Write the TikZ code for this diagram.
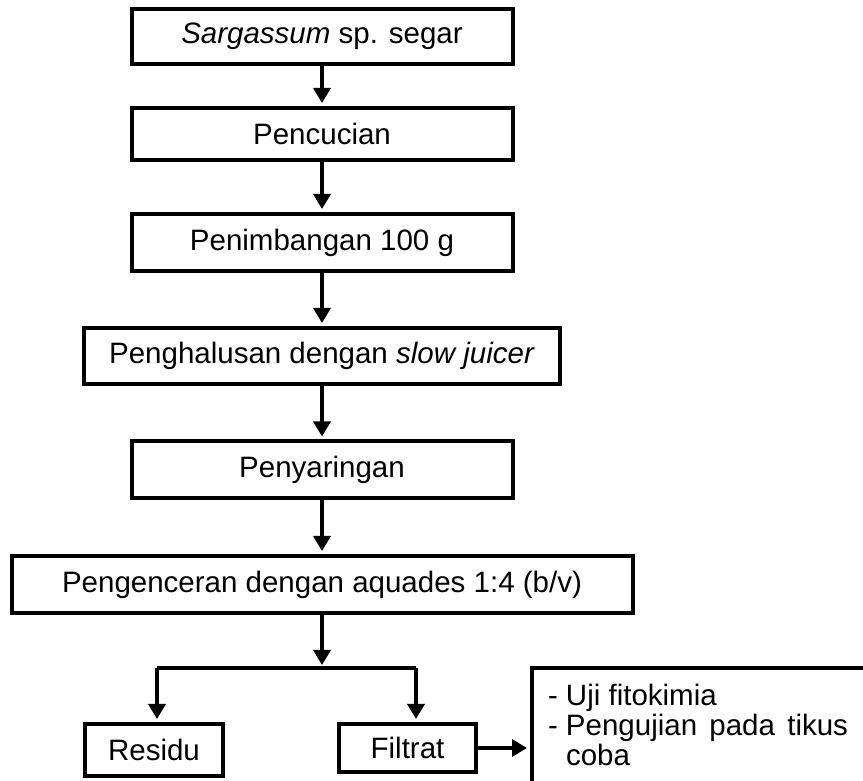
\documentclass[tikz,border=0pt]{standalone}
\usepackage{fontspec}
\setmainfont{Liberation Sans}
\usetikzlibrary{arrows.meta}

\begin{document}
\begin{tikzpicture}[x=1pt,y=1pt,
    font=\fontsize{29.5}{30}\selectfont,
    box/.style={draw, line width=4pt, inner sep=0pt, align=center},
    flow/.style={line width=3.5pt, -{Triangle[length=15pt,width=17pt]}, shorten >=3pt}]
      \clip (0,0) rectangle (863,780);
      \draw
        (322,743.5) node[box, minimum width=381, minimum height=55] (0){\textit{Sargassum} sp. segar}
        (322,646) node[box, minimum width=381, minimum height=52] (1){Pencucian}
        (322,537.5) node[box, minimum width=381, minimum height=57] (2){Penimbangan 100 g}
        (322,424) node[box, minimum width=476, minimum height=56] (3){Penghalusan dengan \textit{slow juicer}}
        (322,310) node[box, minimum width=381, minimum height=57] (4){Penyaringan}
        (322,195.5) node[box, minimum width=621, minimum height=57] (5){Pengenceran dengan aquades 1:4 (b/v)}
        (154,30) node[box, minimum width=138, minimum height=52] (6){Residu}
        (407.5,32) node[box, minimum width=137, minimum height=48] (7){Filtrat}
        (530,114) node[box, anchor=north west, inner sep=16pt] (8){\parbox[t][150pt][t]{330pt}{\tolerance=10000
          \begin{tabular}[t]{@{}l@{\ }p{282pt}@{}}
          - & Uji fitokimia\\
          - & Pengujian pada tikus coba
          \end{tabular}}};
      \coordinate (5a) at (322,112);
      \coordinate (5l) at (157,112);
      \coordinate (5r) at (416,112);
      \begin{scope}[flow]
        \draw (0) to (1);
        \draw (1) to (2);
        \draw (2) to (3);
        \draw (3) to (4);
        \draw (4) to (5);
        \draw (5) to (5a);
        \draw (5l) to (5l |- 6.north);
        \draw (5r) to (5r |- 7.north);
        \draw (7.east) to (7.east -| 8.west);
      \end{scope}
      \draw[line width=3.5pt] (5l) -- (5r);
    \end{tikzpicture}
\end{document}
